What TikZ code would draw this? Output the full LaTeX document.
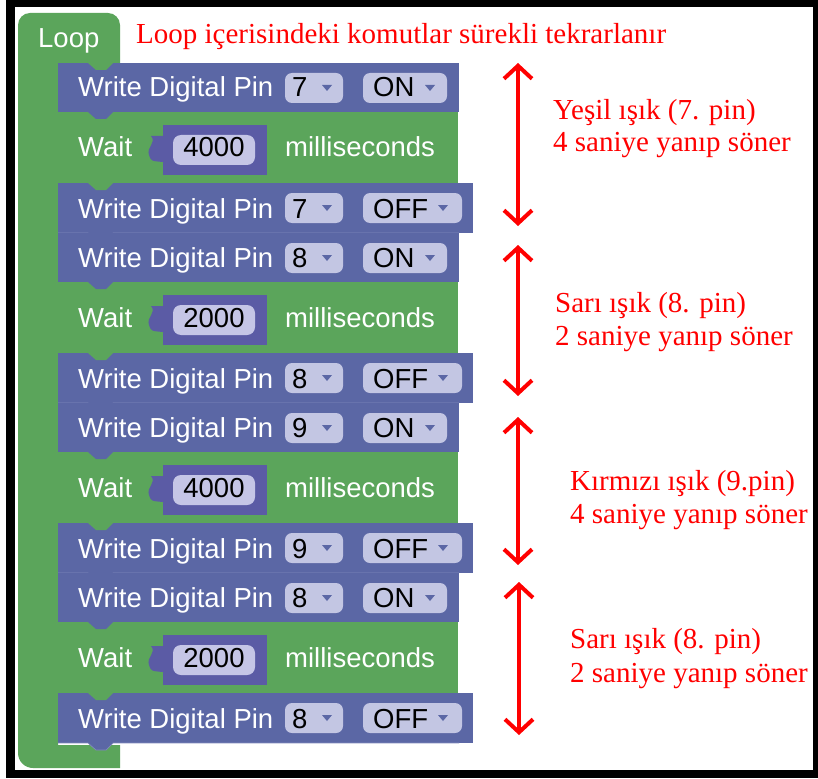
\documentclass[tikz,border=0pt]{standalone}
\usepackage{fontspec}
\setmainfont{Liberation Serif}
\newfontfamily\blockfont{Liberation Sans}
\usetikzlibrary{arrows.meta}

\definecolor{blockblue}{HTML}{5B67A5}
\definecolor{blockgreen}{HTML}{5BA55B}
\definecolor{numblue}{HTML}{5B5BA5}
\definecolor{pillgrey}{HTML}{C3C6E3}
\definecolor{numpill}{HTML}{C5C5E6}
\definecolor{bluelight}{HTML}{8089BD}

\tikzset{
  blocktext/.style={font=\blockfont\fontsize{27.5}{30}\selectfont, text=white, anchor=base west, inner sep=0pt},
  fieldtext/.style={blocktext, text=black},
  pill/.style={fill=pillgrey, rounded corners=7pt},
  note/.style={font=\fontsize{29}{33}\selectfont, text=red, anchor=base west, inner sep=0pt},
  redarrow/.style={red, line width=4pt, {Straight Barb[length=13pt,width=28pt]}-{Straight Barb[length=13pt,width=28pt]}}
}

\begin{document}
\begin{tikzpicture}[x=1pt, y=-1pt]
  \useasboundingbox (0,0) rectangle (818,778);
  % Frame
  \fill[white] (0,0) rectangle (818,778);
  \fill[black] (6,0) rectangle (818,778);
  \fill[white] (15,7) rectangle (813,770);

  % Loop block
  \fill[blockgreen] (18,400) [rounded corners=12pt] -- (18,13) -- (120,13) [sharp corners] -- (120,63) -- (58,63) -- (58,745) -- (120,745) -- (120,768) [rounded corners=15pt] -- (18,768) -- cycle;
  \node[blocktext] (loop) at (38,48) {Loop};
  \node[note] (title) at (136,44) {Loop içerisindeki komutlar sürekli tekrarlanır};

  % Blocks
  \foreach \g/\pin/\ms/\n in {63/7/4000/1, 233/8/2000/2, 403/9/4000/3, 573/8/2000/4} {
    \fill[blockblue] (58,\g) rectangle (459,\g+49);
    \fill[blockgreen] (58,\g+49) rectangle (458,\g+120);
    \fill[blockblue] (58,\g+120) rectangle (473,\g+170);
    \fill[blockblue] (88,\g+49) -- (96,\g+56) -- (106,\g+56) -- (113,\g+49) -- cycle;
    \fill[blockgreen] (88,\g+120) -- (96,\g+127) -- (106,\g+127) -- (113,\g+120) -- cycle;
    \fill[blockblue] (88,\g+170) -- (96,\g+177) -- (106,\g+177) -- (113,\g+170) -- cycle;
    \draw[bluelight, line width=0.7pt] (58,\g+170) -- (88,\g+170) -- (96,\g+177) -- (106,\g+177) -- (113,\g+170) -- (459,\g+170);

    \node[blocktext] (on\n) at (78,\g+34) {Write Digital Pin};
    \fill[pill] (285,\g+10) rectangle (343,\g+40);
    \node[fieldtext] (pa\n) at (292,\g+34) {\pin};
    \fill[blockblue] (322,\g+22) -- (332,\g+22) -- (327,\g+28) -- cycle;
    \fill[pill] (363,\g+10) rectangle (447,\g+40);
    \node[fieldtext] (sa\n) at (373,\g+34) {ON};
    \fill[blockblue] (425,\g+22) -- (435,\g+22) -- (430,\g+28) -- cycle;

    \node[blocktext] (wait\n) at (78,\g+94) {Wait};
    \fill[numblue] (163,\g+62) rectangle (267,\g+112);
    \fill[numblue] (163,\g+73) -- (151,\g+73) .. controls (157,\g+80) and (146,\g+84) .. (149,\g+92) .. controls (151,\g+98) .. (163,\g+99) -- cycle;
    \fill[numpill, rounded corners=8pt] (173,\g+72) rectangle (255,\g+102);
    \node[fieldtext, anchor=base] (ms\n) at (214,\g+94) {\ms};
    \node[blocktext] (unit\n) at (285,\g+94) {milliseconds};

    \node[blocktext] (off\n) at (78,\g+155) {Write Digital Pin};
    \fill[pill] (285,\g+130) rectangle (343,\g+160);
    \node[fieldtext] (pb\n) at (292,\g+155) {\pin};
    \fill[blockblue] (322,\g+142) -- (332,\g+142) -- (327,\g+148) -- cycle;
    \fill[pill] (363,\g+130) rectangle (462,\g+160);
    \node[fieldtext] (sb\n) at (373,\g+155) {OFF};
    \fill[blockblue] (438,\g+142) -- (448,\g+142) -- (443,\g+148) -- cycle;
  }
  \fill[blockgreen] (88,63) -- (96,70) -- (106,70) -- (113,63) -- cycle;

  % Notes
  \node[note] (n1a) at (553,120) {Yeşil ışık (7. pin)};
  \node[note] (n1b) at (553,152) {4 saniye yanıp söner};
  \node[note] (n2a) at (555,312) {Sarı ışık (8. pin)};
  \node[note] (n2b) at (555,345) {2 saniye yanıp söner};
  \node[note] (n3a) at (570,490) {Kırmızı ışık (9.pin)};
  \node[note] (n3b) at (570,523) {4 saniye yanıp söner};
  \node[note] (n4a) at (570,648) {Sarı ışık (8. pin)};
  \node[note] (n4b) at (570,682) {2 saniye yanıp söner};

  % Arrows
  \coordinate (t1) at (518,63);  \coordinate (b1) at (518,226);
  \coordinate (t2) at (518,245); \coordinate (b2) at (518,396);
  \coordinate (t3) at (518,417); \coordinate (b3) at (518,565);
  \coordinate (t4) at (519,582); \coordinate (b4) at (519,735);
  \draw[redarrow] (t1) -- (b1);
  \draw[redarrow] (t2) -- (b2);
  \draw[redarrow] (t3) -- (b3);
  \draw[redarrow] (t4) -- (b4);
\end{tikzpicture}
\end{document}
